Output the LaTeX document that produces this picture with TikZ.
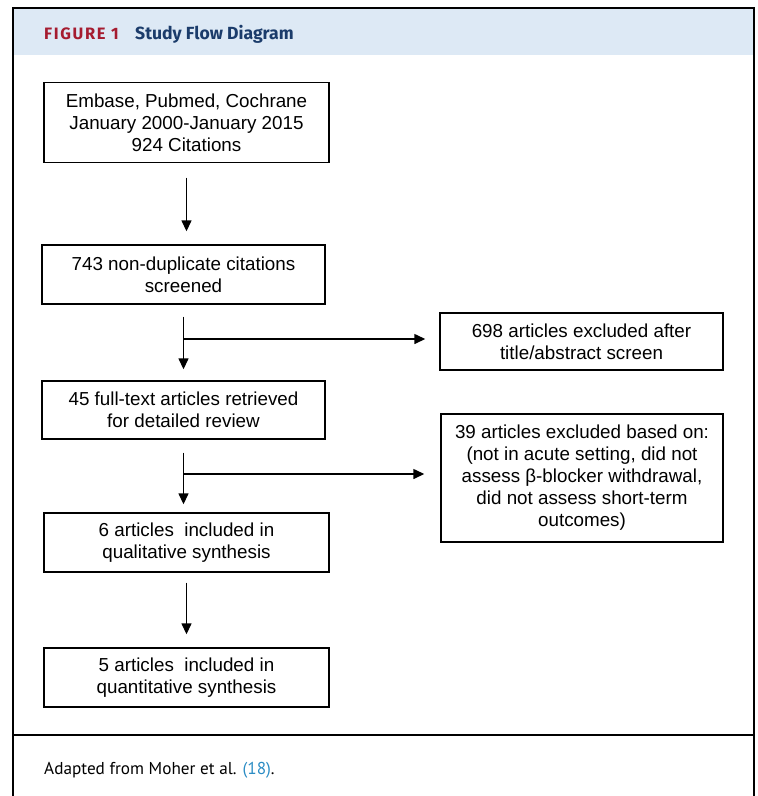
\documentclass[tikz,border=0pt]{standalone}
\usepackage{fontspec}
\setmainfont{Liberation Sans}
\newfontfamily\headfont{Fira Sans}
\newfontfamily\headcaps[LetterSpace=10]{Fira Sans}
\newfontfamily\capfont{PT Sans}
\usetikzlibrary{arrows.meta}
\definecolor{headbg}{HTML}{DDE9F5}
\definecolor{figred}{HTML}{A51C30}
\definecolor{navy}{HTML}{1B3C6B}
\definecolor{linkblue}{HTML}{2B8CC4}
\begin{document}
\begin{tikzpicture}[x=1pt,y=-1pt,
  box/.style={draw, line width=1.4pt, inner sep=0pt, align=center,
    font=\fontsize{18.8}{22}\selectfont},
  arr/.style={line width=1.4pt, -{Triangle[length=11pt,width=10pt]}}]
\useasboundingbox (0,0) rectangle (758,796);
% frame and header
\fill[headbg] (12.5,8) rectangle (753.5,55);
\draw[line width=2pt] (12.5,796) -- (12.5,7.5) -- (753.5,7.5) -- (753.5,796);
\draw[line width=1.3pt] (12.5,735) -- (753.5,735);
\node[anchor=base west, inner sep=0pt, text=figred, font=\headcaps\bfseries\fontsize{16.5}{19}\selectfont] (fig) at (44,39) {FIGURE 1};
\node[anchor=base west, inner sep=0pt, text=navy, font=\headfont\bfseries\fontsize{17.6}{20}\selectfont] (title) at (135,39) {Study Flow Diagram};
\node[anchor=base west, inner sep=0pt, font=\capfont\fontsize{17.2}{20}\selectfont] (cap) at (44,774) {Adapted from Moher et al. \textcolor{linkblue}{(18)}.};
% boxes
\node[box, minimum width=285pt, minimum height=80pt] (b1) at (186.5,122.5) {Embase, Pubmed, Cochrane\\January 2000-January 2015\\924 Citations};
\node[box, minimum width=283pt, minimum height=59pt] (b2) at (183.5,274.5) {743 non-duplicate citations\\screened};
\node[box, minimum width=283pt, minimum height=58pt] (b3) at (183.5,410) {45 full-text articles retrieved\\for detailed review};
\node[box, minimum width=285pt, minimum height=59pt] (b4) at (186.5,542.5) {6 articles\ \ included in\\qualitative synthesis};
\node[box, minimum width=285pt, minimum height=59pt] (b5) at (186.5,677.5) {5 articles\ \ included in\\quantitative synthesis};
\node[box, minimum width=283pt, minimum height=57pt] (e1) at (581.5,341.5) {698 articles excluded after\\title/abstract screen};
\node[box, minimum width=282pt, minimum height=128pt] (e2) at (582,478) {39 articles excluded based on:\\(not in acute setting, did not\\assess β-blocker withdrawal,\\did not assess short-term\\outcomes)};
% connectors
\draw[arr] ([yshift=-14.5pt]b1.south) -- ([yshift=13pt]b1.south |- b2.north);
\coordinate (j1) at (b2.south |- 0,339);
\draw[arr] ([yshift=-12pt]b2.south) -- ([yshift=11pt]b2.south |- b3.north);
\draw[arr] (j1) -- ([xshift=-14pt]e1.west |- j1);
\coordinate (j2) at (b3.south |- 0,474);
\draw[arr] ([yshift=-13pt]b3.south) -- ([yshift=8pt]b3.south |- b4.north);
\draw[arr] (j2) -- ([xshift=-16pt]e2.west |- j2);
\draw[arr] ([yshift=-10pt]b4.south) -- ([yshift=13pt]b4.south |- b5.north);
\end{tikzpicture}
\end{document}
